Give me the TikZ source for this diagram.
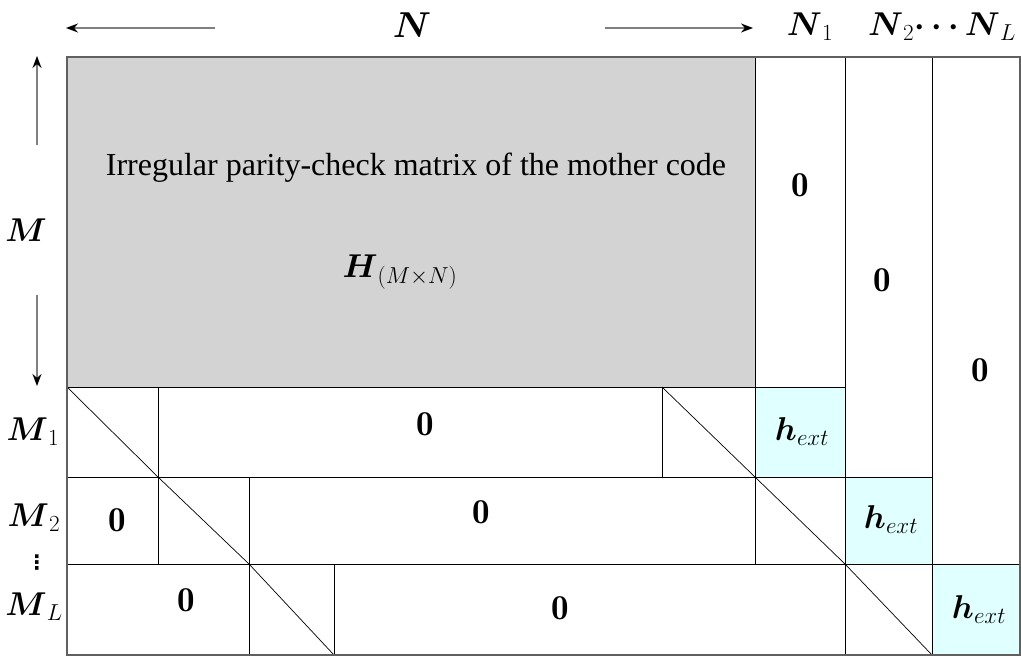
\RequirePackage{fix-cm}
\documentclass[tikz,border=0pt]{standalone}
\usepackage{amsmath}
\usepackage{fontspec}
\newfontfamily\timesfont{Liberation Serif}
\newfontfamily\dejavufont{DejaVu Sans}
\usetikzlibrary{arrows.meta}
\definecolor{grayfill}{HTML}{D3D3D3}
\definecolor{cyanfill}{HTML}{E0FFFF}
\definecolor{bordergray}{HTML}{606060}
\definecolor{arrowgray}{HTML}{808080}
\tikzset{
  lbl/.style={inner sep=0pt, font=\fontsize{33}{40}\selectfont},
  zero/.style={inner sep=0pt, font=\fontsize{35}{40}\selectfont},
  thin line/.style={draw=black, line width=0.8pt},
  dimarrow/.style={draw=arrowgray, line width=1.6pt, -{Stealth[length=12pt,width=9pt,color=black]}},
}
\begin{document}
\begin{tikzpicture}[x=1pt,y=-1pt]
\useasboundingbox (0,0) rectangle (1021,658);
% fills
\fill[grayfill] (67,57) rectangle (755,387);
\fill[cyanfill] (755,387) rectangle (845,477);
\fill[cyanfill] (845,477) rectangle (932,564);
\fill[cyanfill] (932,564) rectangle (1020,655);
% grid lines
\draw[thin line] (755,57) -- (755,564);
\draw[thin line] (845,57) -- (845,655);
\draw[thin line] (932,57) -- (932,655);
\draw[thin line] (67,387) -- (845,387);
\draw[thin line] (67,477) -- (932,477);
\draw[thin line] (67,564) -- (1020,564);
\draw[thin line] (158,387) -- (158,564);
\draw[thin line] (249,477) -- (249,655);
\draw[thin line] (334,564) -- (334,655);
\draw[thin line] (662,387) -- (662,477);
% diagonals
\draw[black, line width=0.7pt] (67,387) -- (158,477) -- (249,564) -- (334,655);
\draw[black, line width=0.7pt] (662,387) -- (755,477) -- (845,564) -- (932,655);
% border
\draw[bordergray, line width=1.3pt] (67,57) rectangle (1020,655);
% top labels
\node[inner sep=0pt, font=\fontsize{36}{42}\selectfont] (N) at (412,25) {$\boldsymbol{N}$};
\coordinate (nl1) at (215,28); \coordinate (nl2) at (66,28);
\coordinate (nr1) at (605,28); \coordinate (nr2) at (753,28);
\draw[dimarrow] (nl1) -- (nl2);
\draw[dimarrow] (nr1) -- (nr2);
\node[lbl] (N1) at (810,27) {$\boldsymbol{N}_1$};
\node[lbl] (N2L) at (942,27) {$\boldsymbol{N}_2\boldsymbol{\cdots}\boldsymbol{N}_L$};
% left labels
\node[lbl] (M) at (26,230) {$\boldsymbol{M}$};
\coordinate (mu1) at (37,145); \coordinate (mu2) at (37,56);
\coordinate (md1) at (37,295); \coordinate (md2) at (37,386);
\draw[dimarrow] (mu1) -- (mu2);
\draw[dimarrow] (md1) -- (md2);
\node[lbl] (M1) at (33,432) {$\boldsymbol{M}_1$};
\node[lbl] (M2) at (34,518) {$\boldsymbol{M}_2$};
\node[inner sep=0pt, font=\dejavufont\bfseries\fontsize{20}{24}\selectfont] (vd) at (37,563) {⋮};
\node[lbl] (ML) at (34,607) {$\boldsymbol{M}_L$};
% gray text
\node[inner sep=0pt, font=\timesfont\fontsize{32}{38}\selectfont] (desc) at (416,168) {Irregular parity-check matrix of the mother code};
\node[lbl] (H) at (400,272) {$\boldsymbol{H}_{(M\times N)}$};
% zeros
\node[zero] (z1) at (800,185) {$\mathbf{0}$};
\node[zero] (z2) at (882,280) {$\mathbf{0}$};
\node[zero] (z3) at (980,370) {$\mathbf{0}$};
\node[zero] (z4) at (425,424) {$\mathbf{0}$};
\node[zero] (z5) at (117,520) {$\mathbf{0}$};
\node[zero] (z6) at (481,512) {$\mathbf{0}$};
\node[zero] (z7) at (186,600) {$\mathbf{0}$};
\node[zero] (z8) at (560,608) {$\mathbf{0}$};
% h_ext
\node[lbl] (h1) at (802,432) {$\boldsymbol{h}_{ext}$};
\node[lbl] (h2) at (891,520) {$\boldsymbol{h}_{ext}$};
\node[lbl] (h3) at (979,610) {$\boldsymbol{h}_{ext}$};
\end{tikzpicture}
\end{document}
